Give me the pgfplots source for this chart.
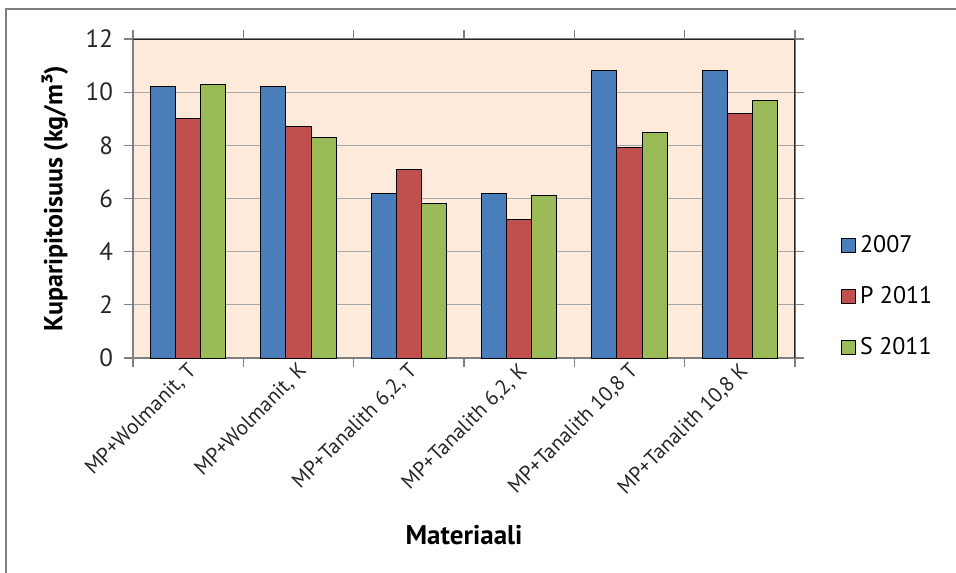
\documentclass[border=0pt]{standalone}
\usepackage{pgfplots}
\pgfplotsset{compat=1.18}
\usepackage{fontspec}
\setmainfont{PT Sans}
\definecolor{cblue}{HTML}{4A7EBB}
\definecolor{cred}{HTML}{C0504D}
\definecolor{cgreen}{HTML}{9BBB59}
\definecolor{bgc}{HTML}{FDEADA}
\definecolor{framec}{HTML}{7F7F7F}
\definecolor{gridc}{HTML}{A6A6A6}
\pgfplotsset{sqlegend/.style={legend image code/.code={\draw[##1, draw=black] (0pt,-3.5pt) rectangle (7pt,3.5pt);}}}
\begin{document}
\begin{tikzpicture}
\useasboundingbox (0,0) rectangle (478pt,-286pt);
\draw[framec, line width=1pt] (3pt,-300pt) -- (3pt,-4.5pt) -- (490pt,-4.5pt);
\begin{axis}[
  at={(66.5pt,-179pt)}, anchor=south west,
  scale only axis, width=331pt, height=159.5pt,
  ymin=0, ymax=12, ytick={0,2,...,12},
  xmin=-0.5, xmax=5.5,
  xtick={0,...,5},
  xticklabels={{MP+Wolmanit, T},{MP+Wolmanit, K},{MP+Tanalith 6,2, T},{MP+Tanalith 6,2, K},{MP+Tanalith 10,8 T},{MP+Tanalith 10,8 K}},
  minor xtick={-0.5,0.5,...,5.5},
  major x tick style={draw=none},
  minor x tick style={draw=framec, line width=0.6pt},
  ytick style={draw=framec, line width=0.6pt},
  minor tick length=4.5pt, major tick length=4.5pt,
  tick align=outside,
  ybar=0pt, bar width=0.227,
  axis background/.style={fill=bgc},
  ymajorgrids, grid style={color=gridc, line width=0.6pt},
  axis line style={draw=framec, line width=0.6pt},
  /pgf/number format/assume math mode=true,
  tick label style={color=black!85},
  yticklabel style={xshift=-2pt, font=\fontsize{12.5}{14}\selectfont},
  xticklabel style={rotate=45, anchor=east, xshift=5pt, yshift=-2pt, font=\fontsize{10.5}{12}\selectfont},
  ylabel={Kuparipitoisuus (kg/m³)},
  ylabel style={at={(axis description cs:-0.118,0.5)}, anchor=center, font=\fontsize{13}{15}\selectfont\bfseries},
  xlabel={Materiaali},
  xlabel style={at={(axis description cs:0.5,-0.555)}, anchor=center, font=\fontsize{13.5}{15}\selectfont\bfseries},
  legend style={at={(1.06,0.41)}, anchor=north west, draw=none, fill=none,
    font=\fontsize{12}{14}\selectfont, row sep=11.5pt},
  legend cell align=left,
]
\addplot[fill=cblue, draw=black, line width=0.5pt, sqlegend]
  coordinates {(0,10.2) (1,10.2) (2,6.2) (3,6.2) (4,10.8) (5,10.8)};
\addplot[fill=cred, draw=black, line width=0.5pt, sqlegend]
  coordinates {(0,9.0) (1,8.7) (2,7.1) (3,5.2) (4,7.9) (5,9.2)};
\addplot[fill=cgreen, draw=black, line width=0.5pt, sqlegend]
  coordinates {(0,10.3) (1,8.3) (2,5.8) (3,6.1) (4,8.5) (5,9.7)};
\legend{2007, P 2011, S 2011}
\draw[black!85, line width=0.6pt] (rel axis cs:0,1) -- (rel axis cs:1,1) -- (rel axis cs:1,0);
\end{axis}
\end{tikzpicture}
\end{document}
